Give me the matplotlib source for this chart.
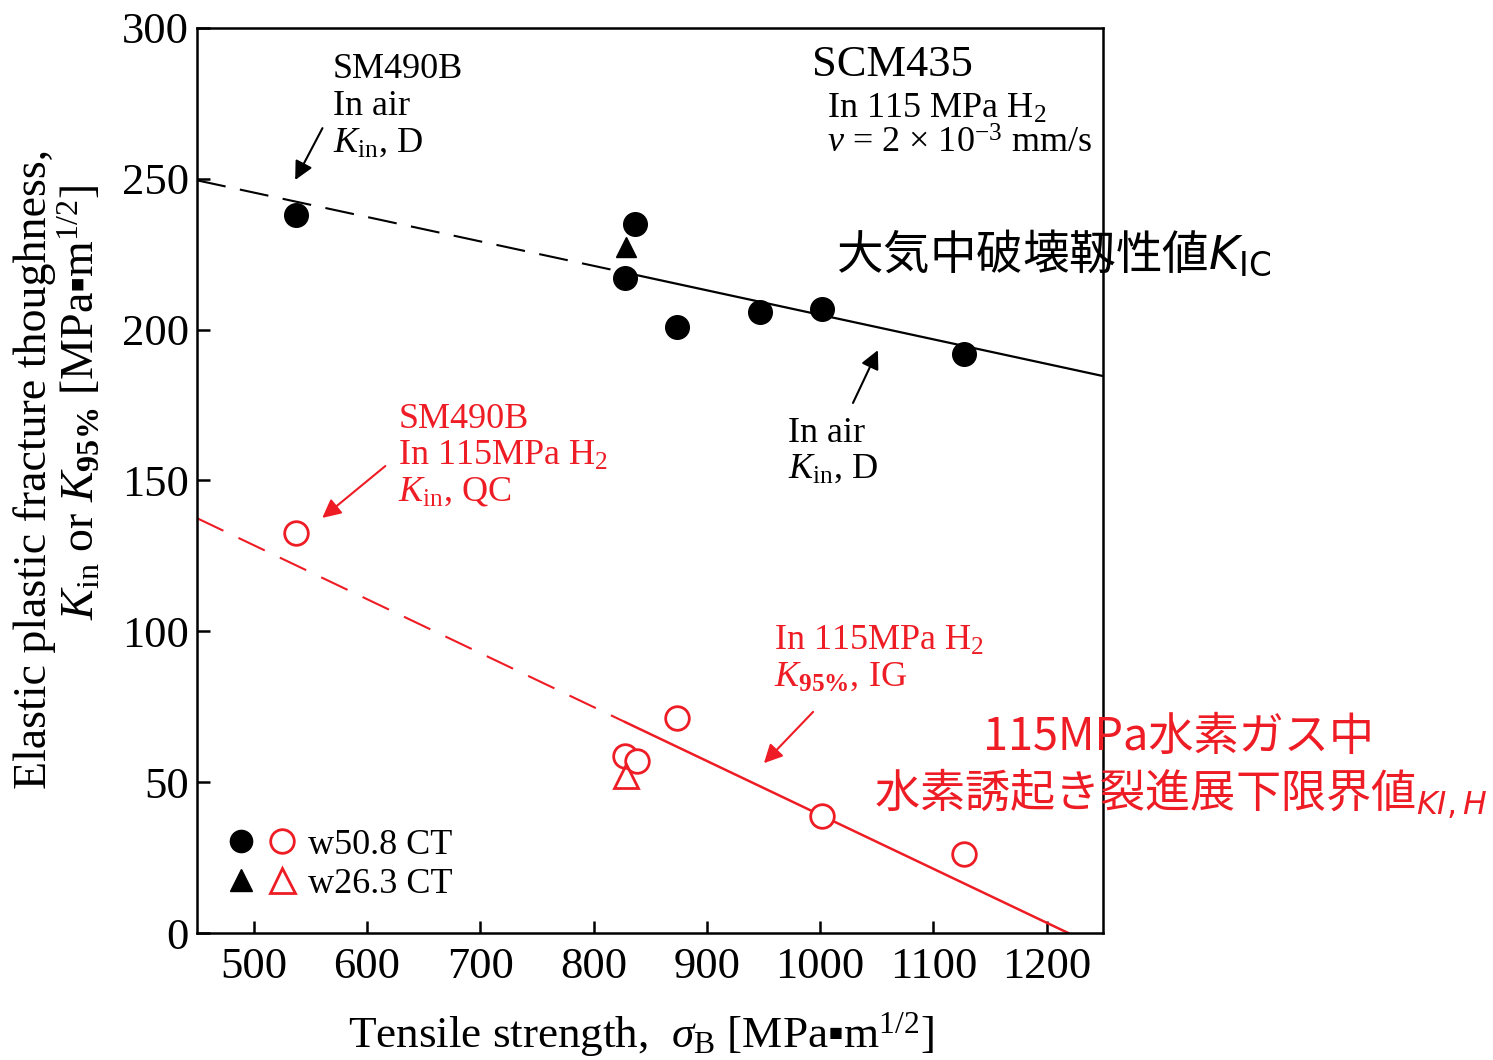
import matplotlib
matplotlib.use('Agg')
import matplotlib.pyplot as plt
from matplotlib.lines import Line2D
from matplotlib.legend_handler import HandlerTuple

plt.rcParams['font.family'] = ['Liberation Serif', 'DejaVu Sans']
plt.rcParams['mathtext.fontset'] = 'custom'
plt.rcParams['mathtext.rm'] = 'Liberation Serif'
plt.rcParams['mathtext.it'] = 'Liberation Serif:italic'
plt.rcParams['mathtext.bf'] = 'Liberation Serif:bold'

RED = '#ee1c24'
CJK = ['Noto Sans CJK JP', 'DejaVu Sans']

# in air, w50.8 CT (filled circles) and w26.3 CT (filled triangle)
air_x = [537, 837, 828, 874, 947, 1002, 1127]
air_y = [238, 235, 217, 201, 206, 207, 192]
air_tri_x = [829]
air_tri_y = [227.5]

# in 115 MPa H2 (open symbols)
h2_x = [537, 828, 838, 874, 1002, 1127]
h2_y = [132.5, 58.7, 57, 71.3, 38.8, 26.2]
h2_tri_x = [829]
h2_tri_y = [52]

# trend lines: dashed part then solid part
air_line_x = [450, 828, 1250]
air_line_y = [249.5, 218.9, 184.6]
h2_line_x = [450, 828, 1219]
h2_line_y = [137.5, 69.9, 0]

xticks = [500, 600, 700, 800, 900, 1000, 1100, 1200]
yticks = [0, 50, 100, 150, 200, 250, 300]

fig = plt.figure(figsize=(14.93, 10.60), dpi=100)
ax = fig.add_axes([0.132, 0.1198, 0.607, 0.8538])

ax.plot(air_line_x[:2], air_line_y[:2], color='black', lw=1.5, dashes=(14, 7))
ax.plot(air_line_x[1:], air_line_y[1:], color='black', lw=1.6)
ax.plot(h2_line_x[:2], h2_line_y[:2], color=RED, lw=1.5, dashes=(14, 8))
ax.plot(h2_line_x[1:], h2_line_y[1:], color=RED, lw=1.8)

ax.plot(air_x, air_y, 'o', color='black', ms=17, zorder=5)
ax.plot(air_tri_x, air_tri_y, '^', color='black', ms=15, zorder=5)
ax.plot(h2_x, h2_y, 'o', mfc='white', mec=RED, mew=2, ms=17, zorder=5)
ax.plot(h2_tri_x, h2_tri_y, '^', mfc='none', mec=RED, mew=2, ms=17, zorder=5)

ax.set_xlim(450, 1250)
ax.set_ylim(0, 300)
ax.set_xticks(xticks)
ax.set_yticks(yticks)
ax.tick_params(direction='in', length=9, width=1.8, labelsize=32)
ax.tick_params(axis='x', pad=10)
ax.tick_params(axis='y', pad=6)
for s in ax.spines.values():
    s.set_linewidth(1.8)

# legend
h1 = (Line2D([], [], ls='', marker='o', color='black', ms=16),
      Line2D([], [], ls='', marker='o', mfc='white', mec=RED, mew=2, ms=17))
h2 = (Line2D([], [], ls='', marker='^', color='black', ms=16),
      Line2D([], [], ls='', marker='^', mfc='none', mec=RED, mew=2, ms=18))
ax.legend([h1, h2], ['w50.8 CT', 'w26.3 CT'], loc='lower left',
          bbox_to_anchor=(0.0, 0.0), frameon=False, fontsize=26,
          handler_map={tuple: HandlerTuple(ndivide=None, pad=0.5)},
          handlelength=1.78, handletextpad=0.4, labelspacing=0.15)


def block(x, baselines, texts, **kw):
    for y, s in zip(baselines, texts):
        ax.text(x, y, s, va='baseline', ha='left', **kw)


arr = dict(arrowstyle='-|>', lw=1.5, mutation_scale=28, shrinkA=0, shrinkB=0)

# SM490B in air
ax.annotate('', xy=(536.6, 249.6), xytext=(560.7, 266.8),
            arrowprops=dict(arr, color='black'))
block(570, [283.4, 271.1, 258.9],
      ['SM490B', 'In air', '$K_{\\mathrm{in}}$, D'], fontsize=26)

# SCM435 condition
ax.text(993, 284.1, 'SCM435', fontsize=32, va='baseline', ha='left')
block(1006, [270.1, 258.5],
      ['In 115 MPa H$_{2}$', '$v$ = 2 × 10$^{-3}$ mm/s'], fontsize=26)

ax.text(1014, 220.4, '大気中破壊靱性値$K_{\\mathrm{IC}}$', fontsize=33.5,
        va='baseline', ha='left', family=CJK, math_fontfamily='dejavusans')

# SCM435 in air
ax.annotate('', xy=(1051, 193.2), xytext=(1029, 175.7),
            arrowprops=dict(arr, color='black'))
block(971.5, [162.7, 150.8], ['In air', '$K_{\\mathrm{in}}$, D'], fontsize=26)

# SM490B in H2
ax.annotate('', xy=(560.5, 137.6), xytext=(616.2, 154.8),
            arrowprops=dict(arr, color=RED))
block(627.5, [167.4, 155.1, 143.5],
      ['SM490B', 'In 115MPa H$_{2}$', '$K_{\\mathrm{in}}$, QC'],
      fontsize=26, color=RED)

# SCM435 in H2
ax.annotate('', xy=(950.4, 56.3), xytext=(993.8, 73.3),
            arrowprops=dict(arr, color=RED))
block(959, [93.8, 81.9],
      ['In 115MPa H$_{2}$', '$K_{\\mathbf{95\\%}}$, IG'],
      fontsize=26, color=RED)

ax.text(1316.5, 60.7, '115MPa水素ガス中', fontsize=32.5, va='baseline',
        ha='center', color=RED, family=CJK)
ax.text(1047.5, 41.4, '水素誘起き裂進展下限界値$_{KI,H}$', fontsize=32.5,
        va='baseline', ha='left', color=RED, family=CJK,
        math_fontfamily='dejavusans')

# axis labels
fig.text(0.0234, 0.5575, 'Elastic plastic fracture thoughness,', rotation=90,
         fontsize=33, ha='center', va='center')
fig.text(0.0536, 0.6208, '$K_{\\mathrm{in}}$ or $K_{\\mathbf{95\\%}}$ [MPa\u25aam$^{1/2}$]',
         rotation=90, fontsize=33, ha='center', va='center')
fig.text(0.4293, 0.024, 'Tensile strength,  $\\sigma_{\\mathrm{B}}$ [MPa\u25aam$^{1/2}$]',
         fontsize=32.5, ha='center', va='center')

fig.savefig('out.png', dpi=100)
